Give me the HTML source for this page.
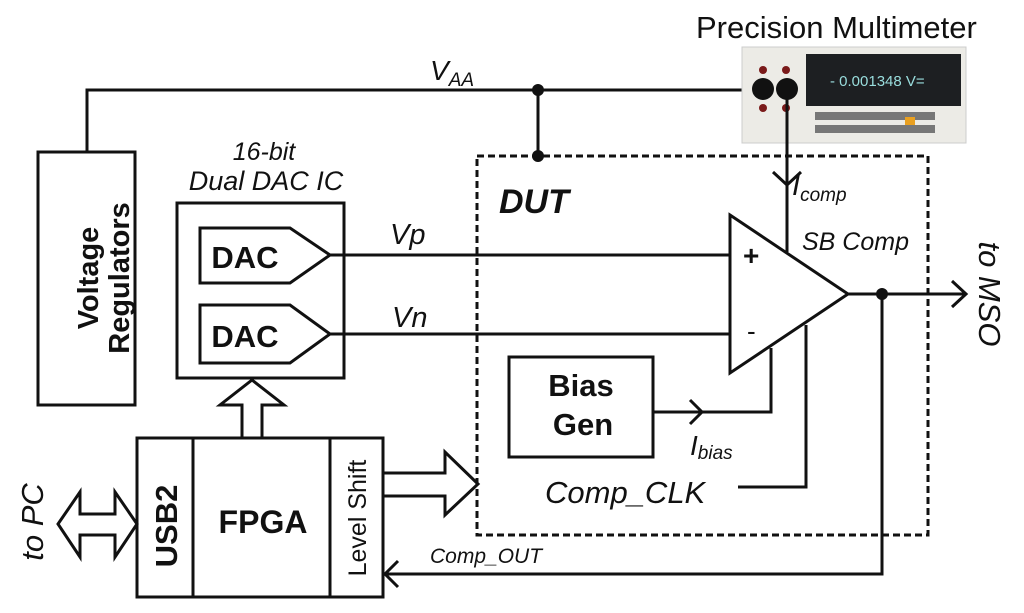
<!DOCTYPE html>
<html><head><style>
body{margin:0;background:#fff}
svg{display:block}
text{font-family:"Liberation Sans",Arial,sans-serif;fill:#111}
</style></head><body>
<svg width="1024" height="613" viewBox="0 0 1024 613" xmlns="http://www.w3.org/2000/svg">
<g stroke="#111" stroke-width="3" fill="none">
<polyline points="87,152 87,90 775,90"/>
<line x1="538" y1="90" x2="538" y2="156"/>
<rect x="38" y="152" width="97" height="253"/>
<rect x="177" y="203" width="167" height="175"/>
<polygon points="200,228 290,228 330,255 290,283 200,283"/>
<polygon points="200,305 290,305 330,334 290,363 200,363"/>
<line x1="330" y1="255" x2="730" y2="255"/>
<line x1="330" y1="334" x2="730" y2="334"/>
<polygon points="242,438 242,405 220,405 252,380 284,405 262,405 262,438" fill="#fff"/>
<rect x="137" y="438" width="246" height="159"/>
<line x1="193" y1="438" x2="193" y2="597"/>
<line x1="330" y1="438" x2="330" y2="597"/>
<polygon points="58,524 80,492 80,514 115,514 115,492 137,524 115,557 115,535 80,535 80,557" fill="#fff"/>
<polygon points="383,473 445,473 445,452 478,484 445,515 445,496 383,496" fill="#fff"/>
<polygon points="730,215 848,294 730,373" fill="#fff"/>
<line x1="787" y1="90" x2="787" y2="252"/>
<polyline points="773,172 787,185 801,172"/>
<line x1="848" y1="294" x2="965" y2="294"/>
<polyline points="952,281 966,294 952,307"/>
<polyline points="882,294 882,574 385,574"/>
<polyline points="398,561 385,574 398,587"/>
<rect x="509" y="357" width="144" height="100"/>
<polyline points="653,412 771,412 771,348"/>
<polyline points="690,400 702,412 690,424"/>
<polyline points="738,487 806,487 806,325"/>
</g>
<rect x="477" y="156" width="451" height="379" fill="none" stroke="#111" stroke-width="3" stroke-dasharray="7,4"/>
<g fill="#111">
<circle cx="538" cy="90" r="6"/><circle cx="538" cy="156" r="6"/>
<circle cx="882" cy="294" r="6"/>
</g>
<rect x="742" y="47" width="224" height="96" fill="#ecebe6" stroke="#ccc"/>
<rect x="806" y="54" width="155" height="52" fill="#1d1f22"/>
<text x="830" y="86" font-size="15" style="fill:#9dd">- 0.001348  V=</text>
<g fill="#777"><rect x="815" y="112" width="120" height="8"/><rect x="815" y="125" width="120" height="8"/></g>
<rect x="905" y="117" width="10" height="8" fill="#e9a020"/>
<g fill="#7a1a1a"><circle cx="763" cy="70" r="4"/><circle cx="786" cy="70" r="4"/><circle cx="763" cy="108" r="4"/><circle cx="786" cy="108" r="4"/></g>
<g fill="#111"><circle cx="763" cy="89" r="11"/><circle cx="787" cy="89" r="11"/></g>
<line x1="787" y1="89" x2="787" y2="145" stroke="#111" stroke-width="3"/>
<text x="696" y="38" font-size="31">Precision Multimeter</text>
<text x="430" y="80" font-size="28" font-style="italic">V<tspan font-size="19" dy="6">AA</tspan></text>
<text x="264" y="160" font-size="25" font-style="italic" text-anchor="middle">16-bit</text>
<text x="266" y="190" font-size="27" font-style="italic" text-anchor="middle">Dual DAC IC</text>
<text x="245" y="268" font-size="31" font-weight="bold" text-anchor="middle">DAC</text>
<text x="245" y="347" font-size="31" font-weight="bold" text-anchor="middle">DAC</text>
<text x="390" y="244" font-size="29" font-style="italic">Vp</text>
<text x="392" y="327" font-size="29" font-style="italic">Vn</text>
<text x="499" y="213" font-size="34" font-style="italic" font-weight="bold">DUT</text>
<text x="792" y="195" font-size="29" font-style="italic">I<tspan font-size="19" dy="6">comp</tspan></text>
<text x="802" y="250" font-size="25" font-style="italic">SB Comp</text>
<text x="743" y="265" font-size="28" font-weight="bold">+</text>
<text x="747" y="340" font-size="26">-</text>
<text x="581" y="396" font-size="31" font-weight="bold" text-anchor="middle">Bias</text>
<text x="583" y="435" font-size="31" font-weight="bold" text-anchor="middle">Gen</text>
<text x="690" y="455" font-size="28" font-style="italic">I<tspan font-size="19" dy="4">bias</tspan></text>
<text x="545" y="503" font-size="31" font-style="italic">Comp_CLK</text>
<text x="430" y="563" font-size="21" font-style="italic">Comp_OUT</text>
<text x="263" y="533" font-size="32" font-weight="bold" text-anchor="middle">FPGA</text>
<text transform="translate(177,526) rotate(-90)" font-size="31" font-weight="bold" text-anchor="middle">USB2</text>
<text transform="translate(366,518) rotate(-90)" font-size="25" text-anchor="middle">Level Shift</text>
<text transform="translate(98,278) rotate(-90)" font-size="29" font-weight="bold" text-anchor="middle">Voltage</text>
<text transform="translate(129,278) rotate(-90)" font-size="29" font-weight="bold" text-anchor="middle">Regulators</text>
<text transform="translate(43,522) rotate(-90)" font-size="31" font-style="italic" text-anchor="middle">to PC</text>
<text transform="translate(979,294) rotate(90)" font-size="31" font-style="italic" text-anchor="middle">to MSO</text>
</svg>
</body></html>
